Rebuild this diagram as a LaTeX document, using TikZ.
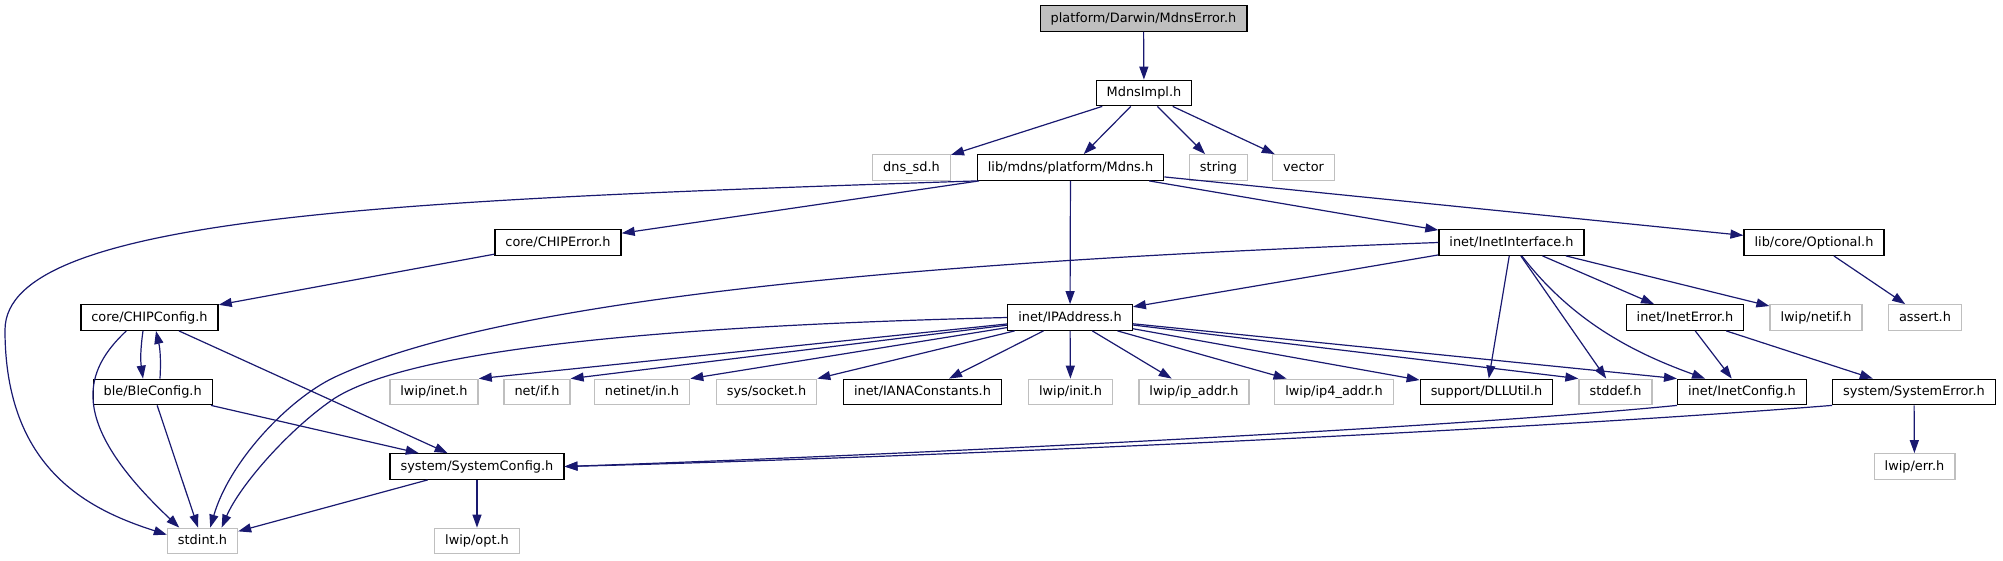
\documentclass[tikz,border=0pt]{standalone}
\usepackage{fontspec}
\setmainfont{DejaVu Sans}
\usepackage{tikz}
\usetikzlibrary{arrows.meta}
\usepackage{xcolor}
\definecolor{edgeblue}{RGB}{25,25,112}
\definecolor{extgrey}{RGB}{191,191,191}
\definecolor{rootgrey}{RGB}{191,191,191}

\begin{document}
\begin{tikzpicture}[x=1pt, y=-1pt,
  hdr/.style={draw=black, line width=1.3pt, fill=white, inner xsep=10.5pt, inner ysep=0pt,
    minimum height=25.5pt, text height=9.6pt, text depth=2.6pt, font=\fontsize{12.9}{15}\selectfont},
  ext/.style={hdr, draw=extgrey},
  mainhdr/.style={hdr, fill=rootgrey},
  dep/.style={edgeblue, line width=1.2pt, -{Triangle[length=13pt, width=9pt]}}]
  \useasboundingbox (0,0) rectangle (2003,560);
  % Row 1
  \node[mainhdr] (mdnserror) at (1143.5,18.5) {platform/Darwin/MdnsError.h};
  % Row 2
  \node[hdr] (mdnsimpl) at (1144,93) {MdnsImpl.h};
  % Row 3
  \node[ext] (dnssd) at (911.5,167.5) {dns\_sd.h};
  \node[hdr] (mdns) at (1070.5,167.5) {lib/mdns/platform/Mdns.h};
  \node[ext] (string) at (1218.5,167.5) {string};
  \node[ext] (vector) at (1303.5,167.5) {vector};
  % Row 4
  \node[hdr] (chiperror) at (558,242.5) {core/CHIPError.h};
  \node[hdr] (inetif) at (1511.5,242.5) {inet/InetInterface.h};
  \node[hdr] (optional) at (1814,242.5) {lib/core/Optional.h};
  % Row 5
  \node[hdr] (chipconfig) at (149.5,317.5) {core/CHIPConfig.h};
  \node[hdr] (ipaddr) at (1070,317.5) {inet/IPAddress.h};
  \node[hdr] (ineterror) at (1685,317.5) {inet/InetError.h};
  \node[ext] (lwipnetif) at (1816,317.5) {lwip/netif.h};
  \node[ext] (assert) at (1925,317.5) {assert.h};
  % Row 6
  \node[hdr] (bleconfig) at (152.7,392) {ble/BleConfig.h};
  \node[ext] (lwipinet) at (434,392) {lwip/inet.h};
  \node[ext] (netif) at (537,392) {net/if.h};
  \node[ext] (netinetin) at (642,392) {netinet/in.h};
  \node[ext] (syssocket) at (766.5,392) {sys/socket.h};
  \node[hdr] (iana) at (922.5,392) {inet/IANAConstants.h};
  \node[ext] (lwipinit) at (1070.5,392) {lwip/init.h};
  \node[ext] (lwipipaddr) at (1194,392) {lwip/ip\_addr.h};
  \node[ext] (lwipip4addr) at (1334,392) {lwip/ip4\_addr.h};
  \node[hdr] (dllutil) at (1486.5,392) {support/DLLUtil.h};
  \node[ext] (stddef) at (1615.5,392) {stddef.h};
  \node[hdr] (inetconfig) at (1742,392) {inet/InetConfig.h};
  \node[hdr] (syserror) at (1914,392) {system/SystemError.h};
  % Row 7
  \node[hdr] (sysconfig) at (477,466.5) {system/SystemConfig.h};
  \node[ext] (lwiperr) at (1914.5,466.5) {lwip/err.h};
  % Row 8
  \node[ext] (stdint) at (202.5,541) {stdint.h};
  \node[ext] (lwipopt) at (477,541) {lwip/opt.h};

  % MdnsError / MdnsImpl
  \draw[dep] (mdnserror) -- (mdnsimpl);
  \draw[dep] (mdnsimpl) -- (dnssd);
  \draw[dep] (mdnsimpl) -- (mdns);
  \draw[dep] (mdnsimpl) -- (string);
  \draw[dep] (mdnsimpl) -- (vector);
  % Mdns.h
  \draw[dep] (mdns.south west) .. controls (400,200) and (5,215) .. (5,330)
    .. controls (5,470) and (90,510) .. (stdint.170);
  \draw[dep] (mdns) -- (chiperror);
  \draw[dep] (mdns) -- (ipaddr);
  \draw[dep] (mdns) -- (inetif);
  \draw[dep] (mdns) -- (optional);
  % CHIPError / CHIPConfig / BleConfig
  \draw[dep] (chiperror) -- (chipconfig);
  \draw[dep] ([xshift=-6.5pt]chipconfig.south) to[bend right=8] ([xshift=-9.7pt]bleconfig.north);
  \draw[dep] ([xshift=7.3pt]bleconfig.north) to[bend right=8] ([xshift=6.5pt]chipconfig.south);
  \draw[dep] (chipconfig.210) .. controls (85,370) and (65,420) .. (stdint.150);
  \draw[dep] (chipconfig) -- (sysconfig);
  \draw[dep] (bleconfig) -- (sysconfig);
  \draw[dep] (bleconfig) -- (stdint);
  % InetInterface
  \draw[dep] (inetif.west) .. controls (900,262) and (500,300) .. (335,377)
    .. controls (290,398) and (230,460) .. (stdint.60);
  \draw[dep] (inetif) -- (ipaddr);
  \draw[dep] (inetif) -- (dllutil);
  \draw[dep] (inetif) -- (stddef);
  \draw[dep] (inetif) .. controls (1575,325) and (1640,355) .. (inetconfig);
  \draw[dep] (inetif) -- (ineterror);
  \draw[dep] (inetif) -- (lwipnetif);
  \draw[dep] (optional) -- (assert);
  % IPAddress
  \draw[dep] (ipaddr.west) .. controls (700,325) and (420,345) .. (335,398)
    .. controls (290,428) and (240,485) .. (stdint.35);
  \draw[dep] (ipaddr) -- (lwipinet.north east);
  \draw[dep] (ipaddr) -- (netif.north east);
  \draw[dep] (ipaddr) -- (netinetin.north east);
  \draw[dep] (ipaddr) -- (syssocket.north east);
  \draw[dep] (ipaddr) -- (iana);
  \draw[dep] (ipaddr) -- (lwipinit);
  \draw[dep] (ipaddr) -- (lwipipaddr);
  \draw[dep] (ipaddr) -- (lwipip4addr);
  \draw[dep] (ipaddr) -- (dllutil);
  \draw[dep] (ipaddr) -- (stddef.north west);
  \draw[dep] (ipaddr) -- (inetconfig.north west);
  % InetError / SystemError
  \draw[dep] (ineterror) -- (inetconfig);
  \draw[dep] (ineterror) -- (syserror);
  \draw[dep] (syserror) -- (lwiperr);
  \draw[dep] (inetconfig.south west) .. controls (1450,428) and (900,455) .. (sysconfig.east);
  \draw[dep] (syserror.south west) .. controls (1500,432) and (900,458) .. (sysconfig.east);
  % SystemConfig
  \draw[dep] (sysconfig) -- (stdint);
  \draw[dep] (sysconfig) -- (lwipopt);
\end{tikzpicture}
\end{document}
